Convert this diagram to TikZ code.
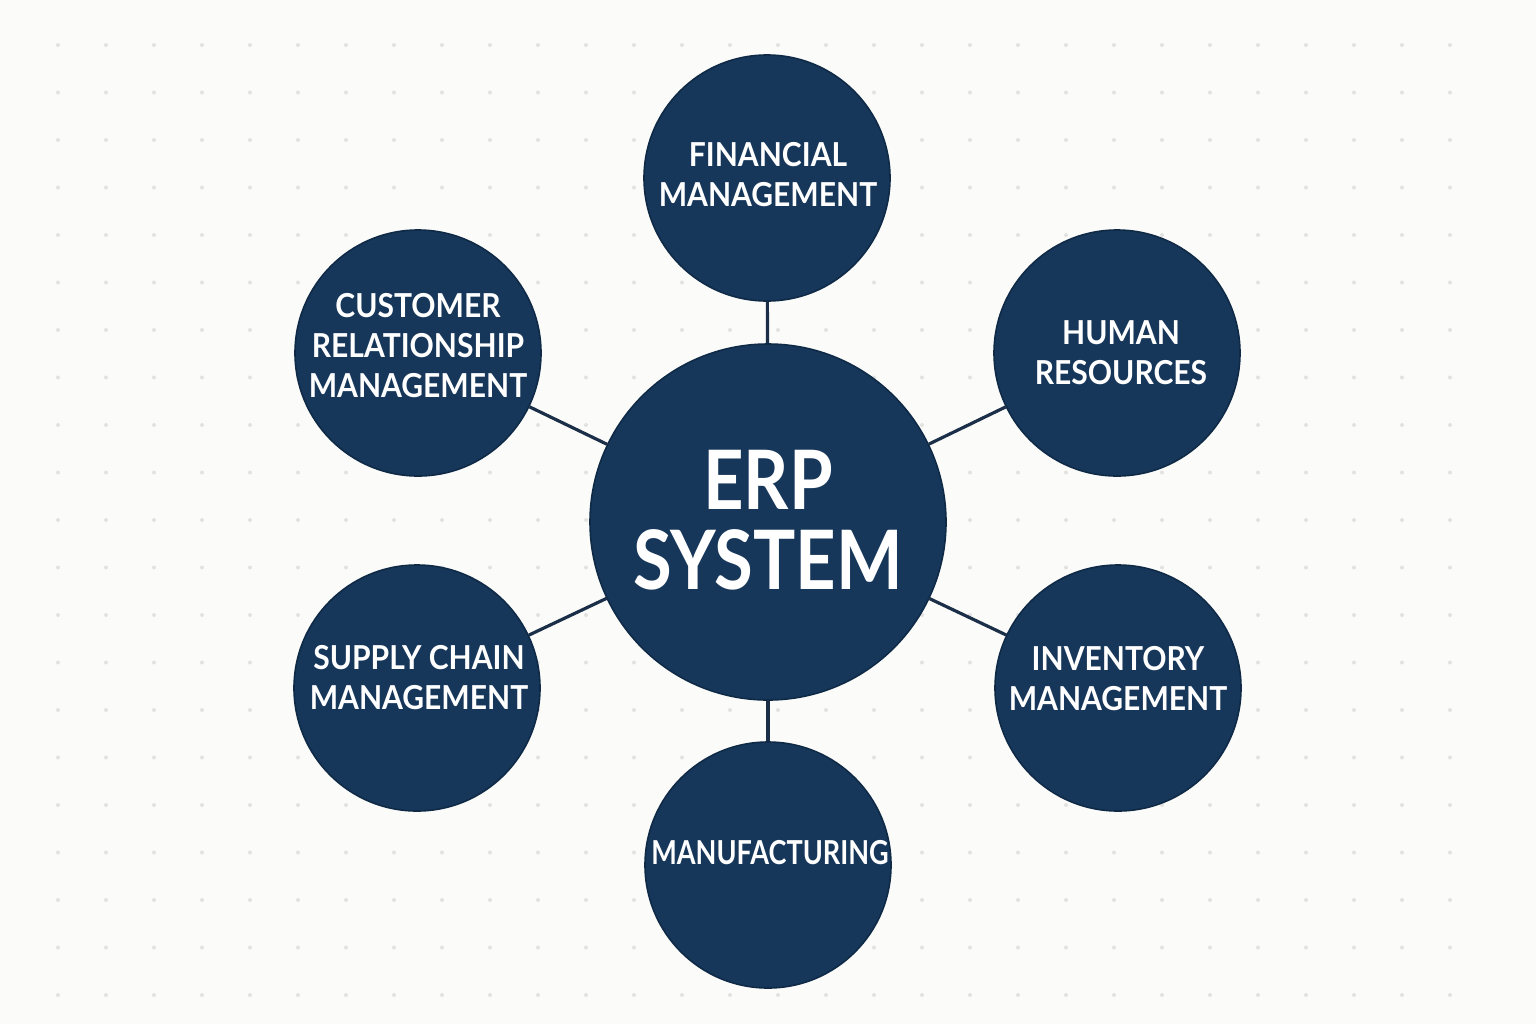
\documentclass[tikz,border=0pt]{standalone}
\usepackage{fontspec}
\setmainfont{Lato}
\newfontfamily\satfont[FakeStretch=0.91]{Lato}
\newfontfamily\manfont[FakeStretch=0.82]{Lato}
\newfontfamily\hubfont[FakeStretch=0.86]{Lato}
\definecolor{navy}{HTML}{17375A}
\definecolor{navyedge}{HTML}{0F2A47}
\definecolor{linkcol}{HTML}{1B2F48}
\definecolor{bgcol}{HTML}{FBFBF9}
\definecolor{dotcol}{HTML}{E2E2E0}
\begin{document}
\begin{tikzpicture}[x=0.5pt,y=-0.5pt,
  hub/.style={circle,fill=navy,draw=navyedge,line width=0.8pt,minimum size=178pt,inner sep=0pt},
  sat/.style={circle,fill=navy,draw=navyedge,line width=0.8pt,minimum size=123pt,inner sep=0pt},
  hubtext/.style={text=white,font=\hubfont\fontsize{41}{40}\selectfont\bfseries,align=center,inner sep=0pt},
  sattext/.style={text=white,font=\satfont\fontsize{16.5}{20}\selectfont\bfseries,align=center,inner sep=0pt},
  mantext/.style={text=white,font=\manfont\fontsize{16.5}{20}\selectfont\bfseries,align=center,inner sep=0pt},
  link/.style={draw=linkcol,line width=1.6pt}]
\fill[bgcol] (0,0) rectangle (1536,1024);
\useasboundingbox (0,0) rectangle (1536,1024);
\foreach \i in {0,...,29}{
  \foreach \j in {0,...,20}{
    \fill[dotcol] (58+48*\i,45+47.5*\j) circle (1pt);
  }
}
% nodes
\node[hub] (erp) at (768,522) {};
\node[sat] (fin) at (767,178) {};
\node[sat] (hr)  at (1117,353) {};
\node[sat] (inv) at (1118,688) {};
\node[sat] (man) at (768,865) {};
\node[sat] (scm) at (417,688) {};
\node[sat] (crm) at (418,353) {};
% connectors
\foreach \s in {fin,hr,inv,man,scm,crm}{
  \draw[link] (erp) -- (\s);
}
% texts
\node[hubtext] (erpt) at (768,520) {ERP\\SYSTEM};
\node[sattext] (fint) at (768,175) {FINANCIAL\\MANAGEMENT};
\node[sattext] (hrt)  at (1121,353) {HUMAN\\RESOURCES};
\node[sattext] (invt) at (1118,679) {INVENTORY\\MANAGEMENT};
\node[mantext] (mant) at (770,853) {MANUFACTURING};
\node[sattext] (scmt) at (419,678) {SUPPLY CHAIN\\MANAGEMENT};
\node[sattext] (crmt) at (418,346) {CUSTOMER\\RELATIONSHIP\\MANAGEMENT};
\end{tikzpicture}
\end{document}
